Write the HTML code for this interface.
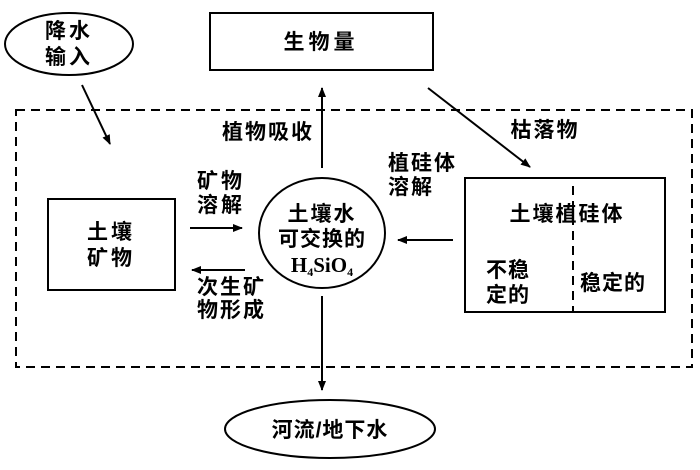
<!DOCTYPE html>
<html><head><meta charset="utf-8"><style>
body{margin:0;background:#fff;}
svg text{font-family:"Liberation Sans","Noto Sans CJK SC",sans-serif;fill:#000;font-size:21px;font-weight:600;}
svg text.s{font-family:"Liberation Serif",serif;font-weight:600;}
</style></head><body>
<svg width="700" height="465" viewBox="0 0 700 465" xmlns="http://www.w3.org/2000/svg">
<defs><marker id="a" markerWidth="10" markerHeight="8" refX="9" refY="4" orient="auto" markerUnits="userSpaceOnUse"><path d="M0,0 L10,4 L0,8 z" fill="#000"/></marker></defs>
<g fill="none" stroke="#000" stroke-width="2">
<ellipse cx="69" cy="44" rx="64" ry="31"/>
<rect x="210" y="13" width="223" height="57"/>
<rect x="16" y="110" width="676" height="257" stroke-dasharray="9,6"/>
<rect x="48" y="199" width="127" height="91"/>
<ellipse cx="322" cy="233" rx="63" ry="55"/>
<rect x="465" y="178" width="200" height="134"/>
<line x1="573" y1="186" x2="573" y2="312" stroke-dasharray="9,6"/>
<ellipse cx="330" cy="429" rx="105" ry="29"/>
<line x1="322" y1="168" x2="322" y2="88" marker-end="url(#a)"/>
<line x1="322" y1="296" x2="322" y2="390" marker-end="url(#a)"/>
<line x1="428" y1="88" x2="530" y2="167" marker-end="url(#a)"/>
<line x1="82" y1="85" x2="110" y2="144" marker-end="url(#a)"/>
<line x1="190" y1="228" x2="242" y2="228" marker-end="url(#a)"/>
<line x1="245" y1="270" x2="192" y2="270" marker-end="url(#a)"/>
<line x1="453" y1="240" x2="398" y2="240" marker-end="url(#a)"/>
</g>
<text x="69" y="38" text-anchor="middle" letter-spacing="3">降水</text>
<text x="69" y="64" text-anchor="middle" letter-spacing="3">输入</text>
<text x="321" y="49" text-anchor="middle" letter-spacing="4">生物量</text>
<text x="268" y="139" text-anchor="middle" letter-spacing="2">植物吸收</text>
<text x="545" y="137" text-anchor="middle" letter-spacing="2">枯落物</text>
<text x="388" y="170" letter-spacing="2">植硅体</text>
<text x="388" y="194" letter-spacing="2">溶解</text>
<text x="197" y="188" letter-spacing="3">矿物</text>
<text x="197" y="212" letter-spacing="3">溶解</text>
<text x="197" y="294" letter-spacing="2">次生矿</text>
<text x="197" y="317" letter-spacing="2">物形成</text>
<text x="111" y="239" text-anchor="middle" letter-spacing="3">土壤</text>
<text x="111" y="265" text-anchor="middle" letter-spacing="3">矿物</text>
<text x="322" y="221" text-anchor="middle" letter-spacing="2">土壤水</text>
<text x="322" y="246" text-anchor="middle" letter-spacing="1">可交换的</text>
<text class="s" x="322" y="272" text-anchor="middle">H<tspan font-size="12" dy="4">4</tspan><tspan dy="-4">SiO</tspan><tspan font-size="12" dy="4">4</tspan></text>
<text x="567" y="221" text-anchor="middle" letter-spacing="2">土壤植硅体</text>
<text x="486" y="277" letter-spacing="1">不稳</text>
<text x="486" y="302" letter-spacing="1">定的</text>
<text x="580" y="290" letter-spacing="1">稳定的</text>
<text x="330" y="437" text-anchor="middle" letter-spacing="1">河流/地下水</text>
</svg>
</body></html>
